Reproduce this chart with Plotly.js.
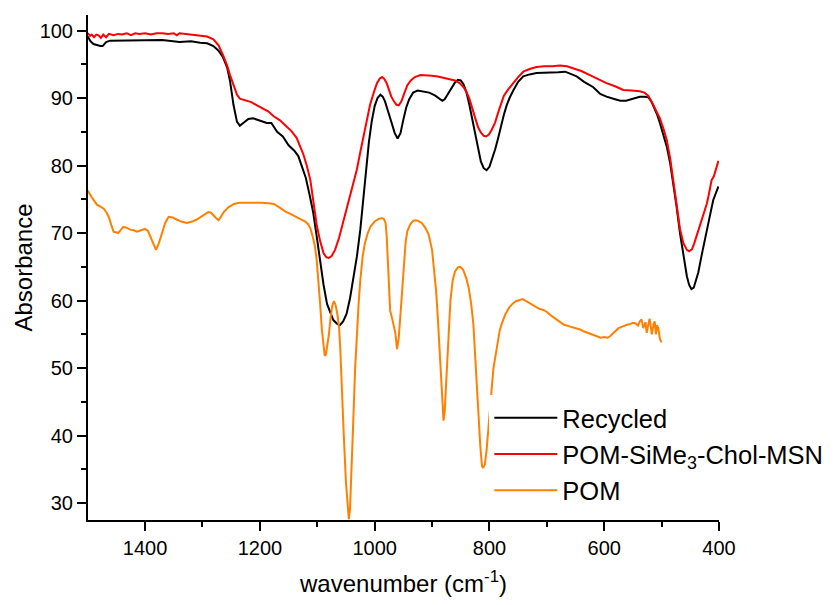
<!DOCTYPE html>
<html><head><meta charset="utf-8">
<script src="https://cdn.plot.ly/plotly-3.0.1.min.js"></script>
<style>html,body{margin:0;padding:0;background:#fff;}#chart{width:834px;height:605px;}</style>
</head><body><div id="chart"></div>
<script>
const recycledWn = [1500,1495,1490,1484,1478,1474,1468,1461,1450,1430,1400,1370,1340,1320,1304,1292,1281,1272,1264,1257,1252,1246,1240,1235,1229,1220,1212,1205,1197,1188,1180,1170,1160,1150,1140,1133,1127,1120,1113,1107,1101,1095,1089,1083,1077,1072,1066,1061,1055,1049,1043,1037,1031,1025,1020,1015,1010,1005,1000,995,990,986,982,978,974,970,965,960,955,950,945,940,933,925,915,905,895,888,882,878,872,866,860,855,850,845,840,835,830,825,820,815,810,805,800,795,790,785,780,775,770,765,758,750,741,730,718,705,692,680,668,658,648,635,619,607,596,584,572,562,555,546,538,530,523,518,513,508,503,497,491,485,480,474,468,462,456,452,448,444,440,436,430,425,421,416,410,405,401];
const recycledAbs = [99.1,98.4,98.0,97.8,97.7,97.7,98.3,98.5,98.5,98.5,98.6,98.6,98.3,98.4,98.2,98.1,97.7,97.0,96.0,94.5,92.5,89.0,86.5,85.9,86.3,86.9,87.0,86.8,86.5,86.3,86.3,85.0,84.3,83.0,82.2,81.4,79.9,78.2,75.5,73.0,69.5,65.6,62.3,59.5,58.2,57.1,56.6,56.3,56.9,58.0,60.3,63.1,66.5,70.5,75.0,79.5,83.5,86.6,88.8,90.0,90.5,90.2,89.5,88.4,87.2,86.0,84.8,84.0,84.8,86.8,88.6,89.8,90.8,91.1,91.0,90.8,90.4,89.9,89.6,89.8,90.6,91.5,92.3,92.7,92.6,92.0,90.8,89.0,86.8,84.5,82.3,80.6,79.6,79.3,79.8,81.0,82.4,84.0,85.8,87.5,88.9,90.0,91.2,92.4,93.2,93.5,93.7,93.7,93.7,93.8,93.9,93.6,93.2,92.4,91.6,90.6,90.2,89.9,89.6,89.6,89.8,90.0,90.2,90.2,90.1,89.5,88.6,87.6,86.3,84.7,82.8,80.3,77.5,74.0,70.0,66.5,63.6,62.3,61.7,61.9,62.9,64.2,66.8,69.0,70.6,72.5,74.9,75.9,76.9];

const pomMsnWn = [1500,1496,1493,1489,1485,1481,1477,1473,1468,1463,1455,1447,1440,1432,1425,1417,1410,1400,1390,1380,1370,1360,1350,1345,1340,1330,1315,1304,1292,1281,1272,1264,1257,1252,1246,1240,1235,1225,1215,1205,1195,1185,1176,1165,1155,1145,1136,1130,1124,1118,1112,1106,1101,1095,1089,1084,1080,1075,1069,1062,1055,1049,1043,1037,1031,1025,1019,1014,1008,1002,996,991,987,983,979,975,971,967,962,958,953,948,943,937,930,920,910,900,890,880,870,860,852,845,840,835,830,825,820,815,810,806,801,796,790,785,780,775,768,761,750,741,730,718,705,690,677,665,654,640,625,610,596,580,567,552,538,530,523,517,510,503,497,491,485,480,474,468,462,456,452,447,443,439,434,429,425,421,417,413,409,405,401];
const pomMsnAbs = [99.6,99.2,99.4,99.0,99.4,99.3,98.9,99.4,99.0,99.5,99.3,99.5,99.4,99.6,99.3,99.6,99.5,99.6,99.4,99.6,99.6,99.5,99.6,99.3,99.6,99.5,99.4,99.3,99.1,98.7,97.8,96.3,94.8,93.4,91.8,90.5,89.9,89.6,89.4,88.9,88.4,88.0,87.3,86.7,85.9,85.1,84.1,82.9,81.6,79.9,77.8,74.2,71.2,68.8,67.0,66.4,66.3,66.6,67.5,69.3,71.5,73.5,75.4,77.2,79.4,82.0,84.6,86.8,89.0,90.7,92.2,92.9,93.1,92.8,92.2,91.2,90.2,89.6,89.0,88.9,89.6,90.8,91.9,92.6,93.1,93.4,93.4,93.3,93.2,93.0,92.9,92.6,92.2,91.6,90.9,89.9,88.5,87.0,85.7,84.9,84.4,84.3,84.6,85.3,86.4,87.8,89.2,90.3,91.2,92.0,93.1,93.9,94.3,94.6,94.7,94.7,94.8,94.7,94.4,94.0,93.4,92.8,92.2,91.7,91.2,91.1,91.0,90.8,90.3,89.4,88.3,87.0,85.5,83.8,81.0,78.0,74.5,70.6,68.5,67.5,67.3,67.6,68.5,69.6,71.2,72.2,73.3,74.4,76.0,77.8,78.4,79.6,80.7];

const pomWn = [1500,1497,1493,1489,1484,1478,1472,1467,1463,1459,1455,1451,1447,1443,1438,1432,1426,1420,1414,1407,1400,1395,1391,1386,1381,1376,1371,1365,1359,1352,1345,1337,1327,1318,1310,1300,1290,1285,1281,1276,1272,1268,1263,1255,1245,1235,1222,1210,1197,1185,1176,1166,1156,1146,1136,1128,1121,1116,1112,1108,1104,1101,1098,1095,1092,1089,1087,1085,1083,1080,1077,1074,1071,1068,1065,1062,1060,1057,1054,1050,1047,1045,1043,1041,1037,1034,1031,1028,1025,1021,1017,1012,1007,1000,993,988,984,981,979,977,975,973,970,967,964,961,958,955,952,949,946,943,938,933,929,924,918,912,906,900,896,893,890,887,884,882,880,878,876,874,871,868,864,860,855,851,846,840,836,832,828,825,822,819,816,813,811,808,805,802,799,796,793,789,786,782,778,772,766,760,754,748,742,736,730,722,714,706,700,693,685,677,670,662,655,648,642,635,628,620,613,606,600,594,590,585,580,575,570,565,560,555,550,545,541,538,535,532,530,528,526,524,521,519,517,514,512,510,508,506,503,500];
const pomAbs = [76.3,75.8,75.3,74.8,74.2,73.9,73.6,73.0,72.3,71.2,70.2,70.1,70.0,70.4,70.9,70.8,70.5,70.4,70.2,70.4,70.6,70.3,69.5,68.5,67.5,68.5,70.0,71.5,72.4,72.3,72.0,71.7,71.5,71.7,72.0,72.6,73.1,73.0,72.6,72.2,71.9,72.5,73.1,73.8,74.3,74.5,74.5,74.6,74.5,74.4,74.3,73.8,73.2,72.8,72.4,72.1,71.7,71.3,70.7,69.5,68.0,66.0,63.1,59.5,55.7,52.8,51.8,52.0,53.0,54.8,57.3,59.2,59.9,59.3,58.0,56.0,53.0,47.8,40.4,33.0,29.0,27.6,29.0,33.0,42.8,50.0,55.2,59.5,63.0,66.5,68.5,70.0,71.0,71.7,72.1,72.2,72.1,71.5,69.5,66.0,62.0,58.5,57.5,56.5,55.2,52.8,54.5,58.0,62.0,66.0,68.7,70.3,71.3,71.8,71.9,71.8,71.5,70.8,69.8,67.5,64.5,61.5,57.5,52.5,47.0,44.0,42.2,43.5,47.0,50.2,55.5,60.0,63.0,64.3,64.9,65.0,64.6,63.2,61.8,59.6,56.5,52.5,47.8,43.0,38.5,35.5,35.2,35.7,37.8,40.5,43.5,47.0,50.0,52.2,54.0,55.6,56.7,58.0,58.9,59.5,59.9,60.1,60.2,59.9,59.6,59.2,58.8,58.6,58.3,57.8,57.3,56.8,56.4,56.2,56.0,55.9,55.7,55.4,55.2,54.9,54.7,54.5,54.6,54.5,54.7,55.1,55.5,55.9,56.1,56.3,56.4,56.5,56.7,56.6,56.3,56.9,57.2,55.9,56.4,56.8,55.2,56.0,57.3,56.2,55.0,56.5,56.9,55.0,56.3,56.0,54.3,53.8];

const seriesNames = ['Recycled', 'POM-SiMe<sub>3</sub>-Chol-MSN', 'POM'];
const xTickVals = [1400, 1200, 1000, 800, 600, 400];
const yTickVals = [30, 40, 50, 60, 70, 80, 90, 100];

const font = 'Arial, "Liberation Sans", sans-serif';
const data = [
  {x: recycledWn, y: recycledAbs, name: seriesNames[0], type: 'scatter', mode: 'lines', line: {color: '#000000', width: 2}},
  {x: pomMsnWn, y: pomMsnAbs, name: seriesNames[1], type: 'scatter', mode: 'lines', line: {color: '#ff0000', width: 2}},
  {x: pomWn, y: pomAbs, name: seriesNames[2], type: 'scatter', mode: 'lines', line: {color: '#ff8000', width: 2}}
];
const axisCommon = {
  showline: true, linecolor: '#000', linewidth: 2, showgrid: false, zeroline: false,
  ticks: 'outside', ticklen: 9, tickwidth: 2, tickcolor: '#000',
  tickfont: {family: font, size: 20, color: '#000'}
};
const layout = {
  width: 834, height: 605,
  margin: {l: 88, r: 115, t: 15, b: 85, autoexpand: false},
  paper_bgcolor: '#fff', plot_bgcolor: '#fff',
  font: {family: font, color: '#000'},
  xaxis: Object.assign({}, axisCommon, {
    range: [1499.5, 400], tickvals: xTickVals,
    minor: {dtick: 100, tick0: 400, ticklen: 5, tickwidth: 2, tickcolor: '#000', ticks: 'outside'},
    title: {text: 'wavenumber (cm<sup>-1</sup>)', font: {family: font, size: 24, color: '#000'}, standoff: 17}
  }),
  yaxis: Object.assign({}, axisCommon, {
    range: [27.48, 102.3], tickvals: yTickVals,
    minor: {dtick: 5, tick0: 0, ticklen: 5, tickwidth: 2, tickcolor: '#000', ticks: 'outside'},
    title: {text: 'Absorbance', font: {family: font, size: 24, color: '#000'}, standoff: 0}
  }),
  showlegend: true,
  legend: {
    x: 0.636, y: 0.248, xanchor: 'left', yanchor: 'top',
    bgcolor: '#ffffff', borderwidth: 0,
    font: {family: font, size: 25.5, color: '#000'},
    itemwidth: 63, tracegroupgap: 0
  }
};
Plotly.newPlot('chart', data, layout, {displayModeBar: false, staticPlot: true});
</script>
</body></html>
